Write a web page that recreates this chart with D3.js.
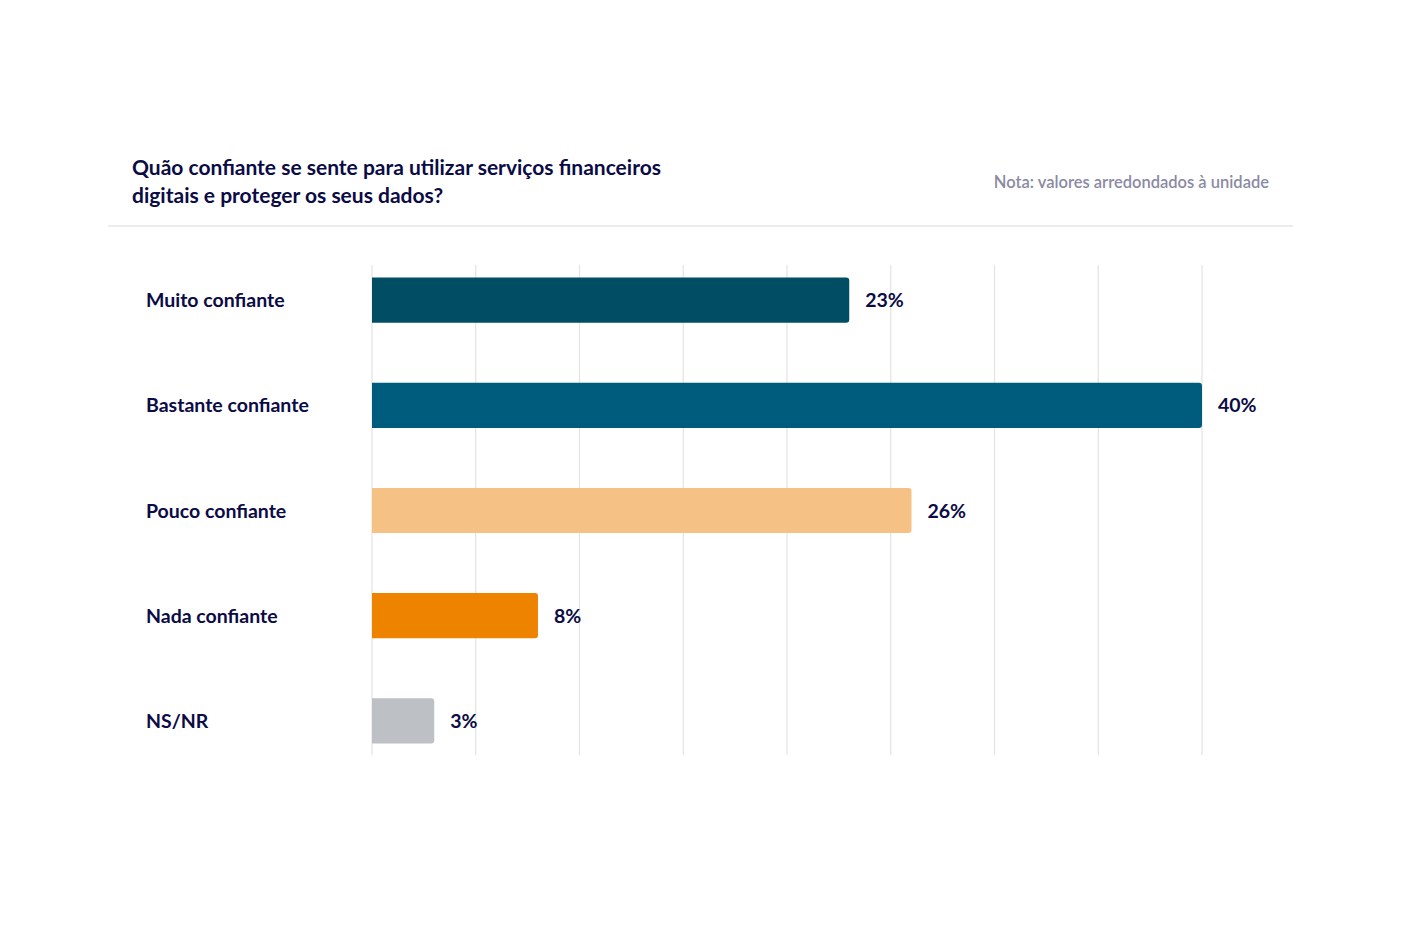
<!DOCTYPE html>
<html><head><meta charset="utf-8">
<script src="https://cdn.jsdelivr.net/npm/d3@7"></script>
<style>body{margin:0;background:#fff;font-family:Lato,"Noto Sans",sans-serif;}</style>
</head><body>
<script>
var categories = ["Muito confiante", "Bastante confiante", "Pouco confiante", "Nada confiante", "NS/NR"];
var values = [23, 40, 26, 8, 3];
var colors = ["#004d64", "#005c7d", "#f5c185", "#ee8300", "#bdc0c4"];
var gridTicks = [0, 5, 10, 15, 20, 25, 30, 35, 40];

var W = 1401, H = 934, navy = "#0b0b45";
var svg = d3.select("body").append("svg").attr("width", W).attr("height", H);

// title
svg.append("text").attr("x", 132).attr("y", 175).attr("font-size", 21).attr("font-weight", 700)
	.attr("fill", navy).text("Quão confiante se sente para utilizar serviços financeiros");
svg.append("text").attr("x", 132).attr("y", 203).attr("font-size", 21).attr("font-weight", 700)
	.attr("fill", navy).text("digitais e proteger os seus dados?");
svg.append("text").attr("x", 1269).attr("y", 188).attr("font-size", 16.5).attr("font-weight", 600)
	.attr("text-anchor", "end").attr("fill", "#8a8aa3").text("Nota: valores arredondados à unidade");
svg.append("line").attr("x1", 108).attr("x2", 1293).attr("y1", 226).attr("y2", 226)
	.attr("stroke", "#e6e6e6").attr("stroke-width", 1.5);

var x = d3.scaleLinear().domain([0, 40]).range([372, 1202]);
var y = d3.scaleBand().domain(categories).range([248, 773]).paddingInner(0.57).paddingOuter(0.28);

//gridlines
svg.selectAll(".grid").data(gridTicks).enter().append("line")
	.attr("x1", function(d){ return x(d); }).attr("x2", function(d){ return x(d); })
	.attr("y1", 265).attr("y2", 755).attr("stroke", "#e3e3e3").attr("stroke-width", 1.2);

//bars with rounded right end
svg.selectAll(".bar").data(values).enter().append("path")
	.attr("fill", function(d, i){ return colors[i]; })
	.attr("d", function(d, i){
		var x0 = x(0), x1 = x(d), y0 = y(categories[i]), h = y.bandwidth(), r = 3;
		return "M" + x0 + "," + y0 + "H" + (x1 - r) + "Q" + x1 + "," + y0 + " " + x1 + "," + (y0 + r) +
			"V" + (y0 + h - r) + "Q" + x1 + "," + (y0 + h) + " " + (x1 - r) + "," + (y0 + h) + "H" + x0 + "Z";
	});

svg.selectAll(".val").data(values).enter().append("text")
	.attr("x", function(d){ return x(d) + 16; })
	.attr("y", function(d, i){ return y(categories[i]) + y.bandwidth() / 2 + 7; })
	.attr("font-size", 19.5).attr("font-weight", 700).attr("fill", navy)
	.text(function(d){ return d + "%"; });

svg.selectAll(".cat").data(categories).enter().append("text")
	.attr("x", 146)
	.attr("y", function(d){ return y(d) + y.bandwidth() / 2 + 7; })
	.attr("font-size", 19.5).attr("font-weight", 700).attr("fill", navy)
	.text(function(d){ return d; });
</script>
</body></html>
